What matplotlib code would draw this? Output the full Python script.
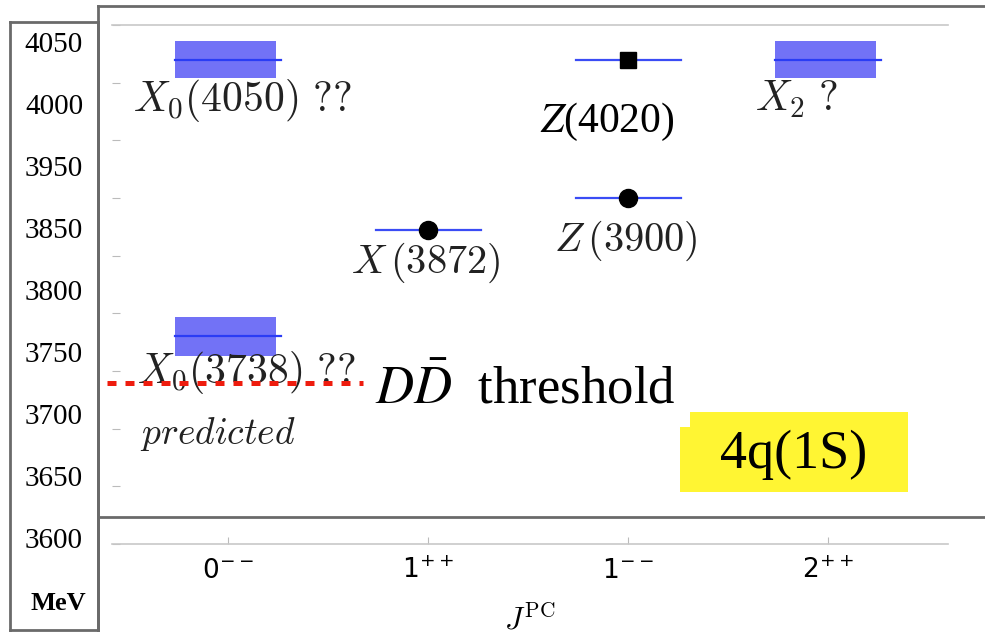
import matplotlib
matplotlib.use('Agg')
import matplotlib.pyplot as plt
from matplotlib.patches import Rectangle
from matplotlib.lines import Line2D

W, H = 985, 636

# J^PC columns
jpc_labels = [r'$0^{--}$', r'$1^{++}$', r'$1^{--}$', r'$2^{++}$']

# predicted 4q(1S) levels, drawn as bands (MeV)
pred_names = [r'$X_0(4050)\ ??$', r'$X_0(3738)\ ??$', r'$X_2\ ?$']
pred_jpc = [0, 0, 3]
pred_mass = [4020, 3780, 4020]
pred_band = [16, 17, 16]

# observed states (MeV)
obs_names = [r'$X\,(3872)$', r'$Z\,(3900)$', r'$Z$(4020)']
obs_jpc = [1, 2, 2]
obs_mass = [3872, 3900, 4020]
obs_marker = ['o', 'o', 's']

dd_threshold = 3740

mev_labels = ['4050', '4000', '3950', '3850', '3800', '3750', '3700', '3650', '3600']

# label offsets in pixels (dx, dy)
pred_off = [(14, -41), (18, -36), (-31, -39)]
obs_off = [(-2, -33), (-2, -43), (-21, -62)]


def fx(x):
    return x / W


def fy(y):
    return 1 - y / H


fig = plt.figure(figsize=(9.85, 6.36), dpi=100)
fig.patch.set_facecolor('white')

ax = fig.add_axes([fx(112), fy(544), fx(948) - fx(112), fy(25) - fy(544)])
ax.set_xlim(-0.58, 3.6)
ax.set_ylim(3600, 4050)

for j, m, b in zip(pred_jpc, pred_mass, pred_band):
    ax.add_patch(Rectangle((j - 0.265, m - b), 0.505, 2 * b, fc='#7272f6', ec='none', zorder=2))
    ax.plot([j - 0.265, j + 0.265], [m, m], color='#2a3cf5', lw=1.6, zorder=3)

for j, m, mk in zip(obs_jpc, obs_mass, obs_marker):
    ax.plot([j - 0.26, j + 0.265], [m, m], color='#3a4cf5', lw=1.6, zorder=3)
    ax.plot(j, m, marker=mk, ms=13 if mk == 'o' else 11, color='black', zorder=4)

for name, j, m, off in zip(pred_names, pred_jpc, pred_mass, pred_off):
    ax.annotate(name, (j, m), xytext=off, textcoords='offset pixels', ha='center', va='center',
                fontsize=30, math_fontfamily='cm', color='#222222')

for k, (name, j, m, off) in enumerate(zip(obs_names, obs_jpc, obs_mass, obs_off)):
    if k == 2:
        ax.annotate(name, (j, m), xytext=off, textcoords='offset pixels', ha='center', va='center',
                    fontsize=30, family='Liberation Serif', math_fontfamily='stix', color='black')
    else:
        ax.annotate(name, (j, m), xytext=off, textcoords='offset pixels', ha='center', va='center',
                    fontsize=29, math_fontfamily='cm', color='#222222')

fig.text(fx(218), fy(434), r'$\mathit{predicted}$', fontsize=27, math_fontfamily='cm',
         ha='center', va='center', color='#222222')

# D Dbar threshold
ax.plot([-0.605, 0.675], [dd_threshold, dd_threshold], clip_on=False, color='#ee1c0e',
        lw=3.6, dashes=(1.8, 1.8), dash_capstyle='butt', zorder=5)

ax.set_xticks(range(len(jpc_labels)))
ax.set_xticklabels(jpc_labels, fontsize=19)
for t in ax.get_xticklabels():
    t.set_math_fontfamily('dejavusans')
ax.tick_params(axis='x', direction='in', length=5, color='#bbbbbb', pad=10)
ax.set_yticks(range(3600, 4051, 50))
ax.tick_params(axis='y', direction='in', length=6, color='#bbbbbb', labelleft=False)
for s in ['left', 'right']:
    ax.spines[s].set_visible(False)
for s in ['top', 'bottom']:
    ax.spines[s].set_color('#c8c8c8')
    ax.spines[s].set_linewidth(1.2)

fig.text(fx(530), fy(635), r'$J^{\mathrm{PC}}$', fontsize=22, math_fontfamily='cm',
         ha='center', va='bottom')

# frame lines
fig.add_artist(Line2D([fx(98), fx(985)], [fy(6), fy(6)], transform=fig.transFigure, color='#6a6a6a', lw=2))
fig.add_artist(Line2D([fx(98), fx(98)], [fy(6), fy(630)], transform=fig.transFigure, color='#6a6a6a', lw=2))
fig.add_artist(Line2D([fx(100), fx(985)], [fy(517), fy(517)], transform=fig.transFigure, color='#6a6a6a', lw=2))

# MeV scale box
lab = fig.add_axes([fx(10), fy(630), fx(98) - fx(10), fy(22) - fy(630)])
lab.set_xlim(0, 88)
lab.set_ylim(9.435, -0.371)
lab.set_xticks([])
lab.set_yticks([])
for s in lab.spines.values():
    s.set_color('#6a6a6a')
    s.set_linewidth(2)
for i, lbl in enumerate(mev_labels):
    lab.text(73, i, lbl, ha='right', va='center', fontsize=21, family='Liberation Serif')
lab.text(76, 9, 'MeV', ha='right', va='center', fontsize=19, family='Liberation Serif', weight='bold')

fig.text(fx(375), fy(403), r'$D\bar{D}$  threshold', fontsize=38, family='Liberation Serif',
         math_fontfamily='stix', va='baseline')

# 4q(1S) tag
fig.add_artist(Rectangle((fx(690), fy(492)), fx(908) - fx(690), fy(412) - fy(492),
                         transform=fig.transFigure, fc='#fff533', ec='none'))
fig.add_artist(Rectangle((fx(680), fy(492)), fx(690) - fx(680), fy(427) - fy(492),
                         transform=fig.transFigure, fc='#fff533', ec='none'))
fig.text(fx(794), fy(455), '4q(1S)', fontsize=39, family='Liberation Serif', ha='center', va='center')

fig.savefig('out.png', dpi=100)
